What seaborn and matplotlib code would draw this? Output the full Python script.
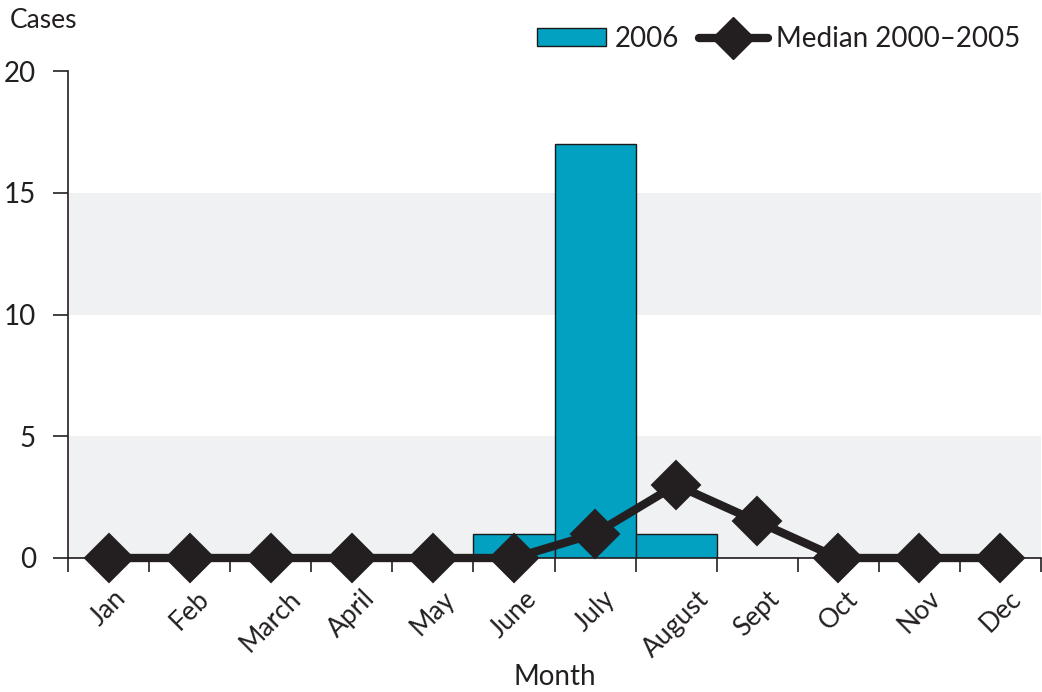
import numpy as np
import pandas as pd
import matplotlib
matplotlib.use("Agg")
import matplotlib.pyplot as plt
import seaborn as sns
from matplotlib.patches import Patch
from matplotlib.lines import Line2D

months = ["Jan", "Feb", "March", "April", "May", "June", "July", "August",
          "Sept", "Oct", "Nov", "Dec"]
cases_2006 = [0, 0, 0, 0, 0, 1, 17, 1, 0, 0, 0, 0]
median_2000_2005 = [0, 0, 0, 0, 0, 0, 1, 3, 1.5, 0, 0, 0]
y_ticks = [0, 5, 10, 15, 20]

sns.set_theme(style="white")
plt.rcParams['font.family'] = ['Lato', 'DejaVu Sans']

BAR = "#02a0c1"
DARK = "#231f20"
TXT = "#231f20"

df = pd.DataFrame({"Month": months, "2006": cases_2006, "Median": median_2000_2005})

fig = plt.figure(figsize=(10.42, 6.92), dpi=100)
ax = fig.add_axes([68/1042, 1-558/692, (1041-68)/1042, (558-71)/692])

for lo, hi in [(0, 5), (10, 15)]:
    ax.axhspan(lo, hi, color="#f0f1f3", zorder=0, lw=0)

sns.barplot(data=df, x="Month", y="2006", color=BAR, width=1.0,
            edgecolor="#1a1a1a", linewidth=1.0, saturation=1, ax=ax, zorder=2)
n_before = len(ax.lines)
sns.pointplot(data=df, x="Month", y="Median", color=DARK, markers="D",
              markersize=21, linewidth=6, ax=ax, zorder=3)
for ln in ax.lines[n_before:]:
    ln.set_clip_on(False)

ax.set_xlim(-0.5, 11.5)
ax.set_ylim(0, 20)
ax.set_yticks(y_ticks)
ax.set_yticklabels([str(t) for t in y_ticks], fontsize=20, color=TXT)
ax.tick_params(axis='y', direction='out', length=11, width=1.2, pad=12, left=True, color=TXT)
ax.set_xticks(range(len(months)))
ax.set_xticklabels(months, rotation=45, ha='center', fontsize=19, color=TXT)
ax.set_xticks(np.arange(-0.5, 12, 1), minor=True)
ax.tick_params(axis='x', which='major', length=0, pad=20)
ax.tick_params(axis='x', which='minor', direction='out', length=10, width=1.2,
               bottom=True, color=TXT)
for s in ["top", "right"]:
    ax.spines[s].set_visible(False)
for s in ["left", "bottom"]:
    ax.spines[s].set_color(TXT)
    ax.spines[s].set_linewidth(1.2)
ax.set_xlabel("Month", fontsize=20, color=TXT, labelpad=2)
ax.set_ylabel("")

fig.text(10/1042, 1-20/692, "Cases", fontsize=19, color=TXT, va='center', ha='left')

handles = [Patch(facecolor=BAR, edgecolor="#1a1a1a", linewidth=1.0),
           Line2D([0], [0], color=DARK, lw=6, marker="D", markersize=21)]
fig.legend(handles, ["2006", "Median 2000\u20132005"], loc='center right',
           bbox_to_anchor=(1040/1042, 1-39/692), ncol=2, frameon=False,
           fontsize=20, handlelength=2.5, handleheight=0.6, columnspacing=0.7,
           handletextpad=0.3, labelcolor=TXT, borderpad=0.2)

fig.savefig("out.png", dpi=100)
